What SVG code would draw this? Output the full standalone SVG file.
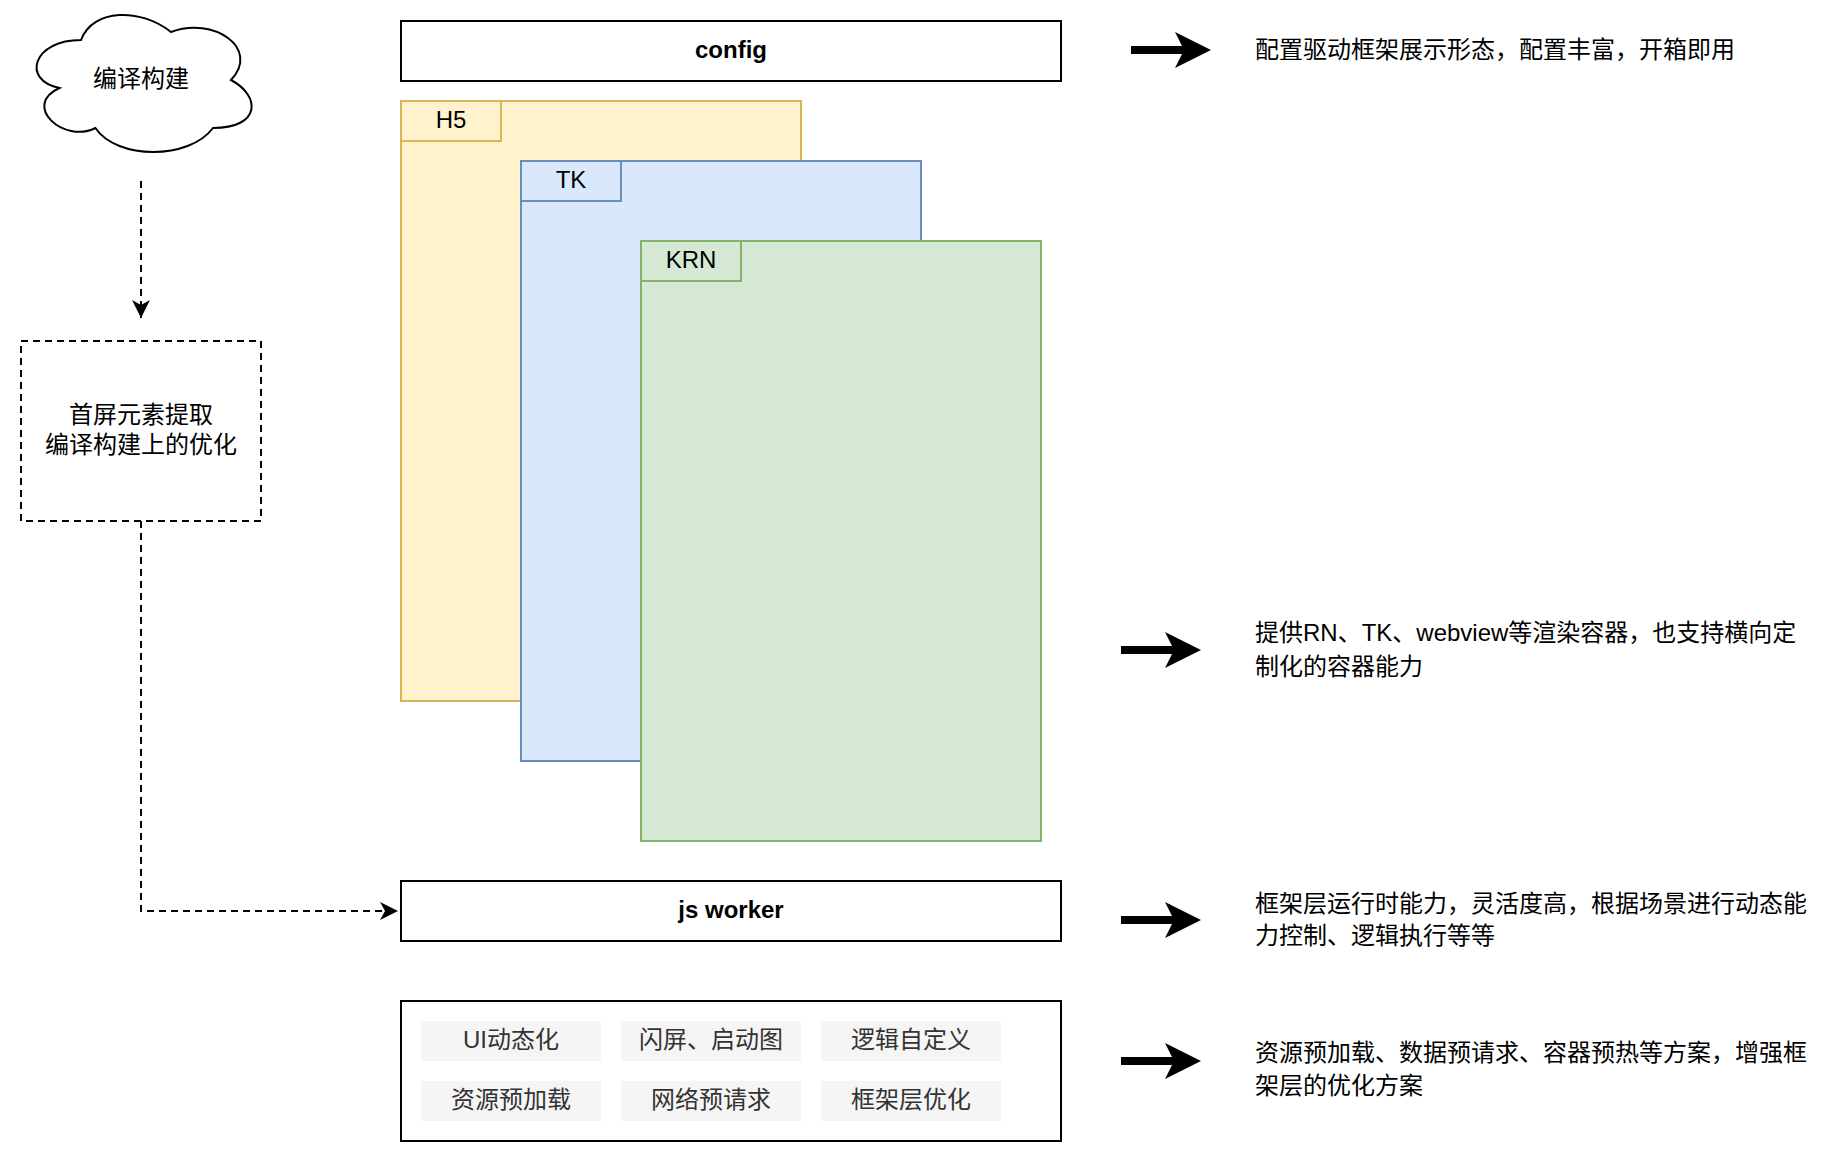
<svg xmlns="http://www.w3.org/2000/svg" width="1822" height="1162" viewBox="0 0 1822 1162">
<style>
text{font-family:"Liberation Sans","Noto Sans CJK SC",sans-serif;font-size:24px;fill:#000;dominant-baseline:central}
.c{text-anchor:middle}
.b{font-weight:bold}
.box{fill:#fff;stroke:#000;stroke-width:2}
.dash{fill:none;stroke:#000;stroke-width:2;stroke-dasharray:7 5}
.item{fill:#f5f5f5;stroke:none}
.it{fill:#333}
.h5{fill:#fff2cc;stroke:#d6b656;stroke-width:2}
.tk{fill:#dae8fc;stroke:#6c8ebf;stroke-width:2}
.krn{fill:#d5e8d4;stroke:#82b366;stroke-width:2}
.shaft{stroke:#000;stroke-width:8;fill:none}
</style>
<defs>
<marker id="ah" markerWidth="20" markerHeight="20" viewBox="0 0 20 20" refX="18" refY="10" orient="auto" markerUnits="userSpaceOnUse">
<path d="M18,10 L0,1 L5,10 L0,19 Z" fill="#000"/>
</marker>
</defs>
<rect width="1822" height="1162" fill="#fff"/>

<g id="cloud">
<path d="M81,40 C33,40 21,80 59.4,88 C21,105.6 64.2,144 95.4,128 C117,160 189,160 213,128 C261,128 261,96 231,80 C261,48 213,16 171,32 C141,8 93,8 81,40 Z" fill="#fff" stroke="#000" stroke-width="2"/>
<text class="c" x="141" y="78">编译构建</text>
</g>

<g id="prebox">
<rect class="dash" x="21" y="341" width="240" height="180"/>
<text class="c" x="141" y="414">首屏元素提取</text>
<text class="c" x="141" y="444">编译构建上的优化</text>
</g>

<g id="config">
<rect class="box" x="401" y="21" width="660" height="60"/>
<text class="c b" x="731" y="49">config</text>
</g>

<g id="h5">
<rect class="h5" x="401" y="101" width="400" height="600"/>
<rect class="h5" x="401" y="101" width="100" height="40"/>
<text class="c" x="451" y="119">H5</text>
</g>

<g id="tk">
<rect class="tk" x="521" y="161" width="400" height="600"/>
<rect class="tk" x="521" y="161" width="100" height="40"/>
<text class="c" x="571" y="179">TK</text>
</g>

<g id="krn">
<rect class="krn" x="641" y="241" width="400" height="600"/>
<rect class="krn" x="641" y="241" width="100" height="40"/>
<text class="c" x="691" y="259">KRN</text>
</g>

<g id="jsworker">
<rect class="box" x="401" y="881" width="660" height="60"/>
<text class="c b" x="731" y="909">js worker</text>
</g>

<g id="features">
<rect class="box" x="401" y="1001" width="660" height="140"/>
<rect class="item" x="421" y="1021" width="180" height="40"/>
<text class="c it" x="511" y="1039">UI动态化</text>
<rect class="item" x="621" y="1021" width="180" height="40"/>
<text class="c it" x="711" y="1039">闪屏、启动图</text>
<rect class="item" x="821" y="1021" width="180" height="40"/>
<text class="c it" x="911" y="1039">逻辑自定义</text>
<rect class="item" x="421" y="1081" width="180" height="40"/>
<text class="c it" x="511" y="1099">资源预加载</text>
<rect class="item" x="621" y="1081" width="180" height="40"/>
<text class="c it" x="711" y="1099">网络预请求</text>
<rect class="item" x="821" y="1081" width="180" height="40"/>
<text class="c it" x="911" y="1099">框架层优化</text>
</g>

<g id="desc1"><text x="1255" y="49">配置驱动框架展示形态，配置丰富，开箱即用</text></g>
<g id="desc2"><text x="1255" y="632.5">提供RN、TK、webview等渲染容器，也支持横向定</text><text x="1255" y="666">制化的容器能力</text></g>
<g id="desc3"><text x="1255" y="903.5">框架层运行时能力，灵活度高，根据场景进行动态能</text><text x="1255" y="935.5">力控制、逻辑执行等等</text></g>
<g id="desc4"><text x="1255" y="1052">资源预加载、数据预请求、容器预热等方案，增强框</text><text x="1255" y="1085">架层的优化方案</text></g>

<g id="connectors">
<path class="dash" d="M141,181 V318" marker-end="url(#ah)"/>
<path class="dash" d="M141,521 V911 H398" marker-end="url(#ah)"/>
<g id="bigarrows">
<line class="shaft" x1="1131" y1="50" x2="1185" y2="50"/>
<path d="M1211,50 L1175,32 L1184,50 L1175,68 Z"/>
<line class="shaft" x1="1121" y1="650" x2="1175" y2="650"/>
<path d="M1201,650 L1165,632 L1174,650 L1165,668 Z"/>
<line class="shaft" x1="1121" y1="920" x2="1175" y2="920"/>
<path d="M1201,920 L1165,902 L1174,920 L1165,938 Z"/>
<line class="shaft" x1="1121" y1="1061" x2="1175" y2="1061"/>
<path d="M1201,1061 L1165,1043 L1174,1061 L1165,1079 Z"/>
</g>
</g>
</svg>
